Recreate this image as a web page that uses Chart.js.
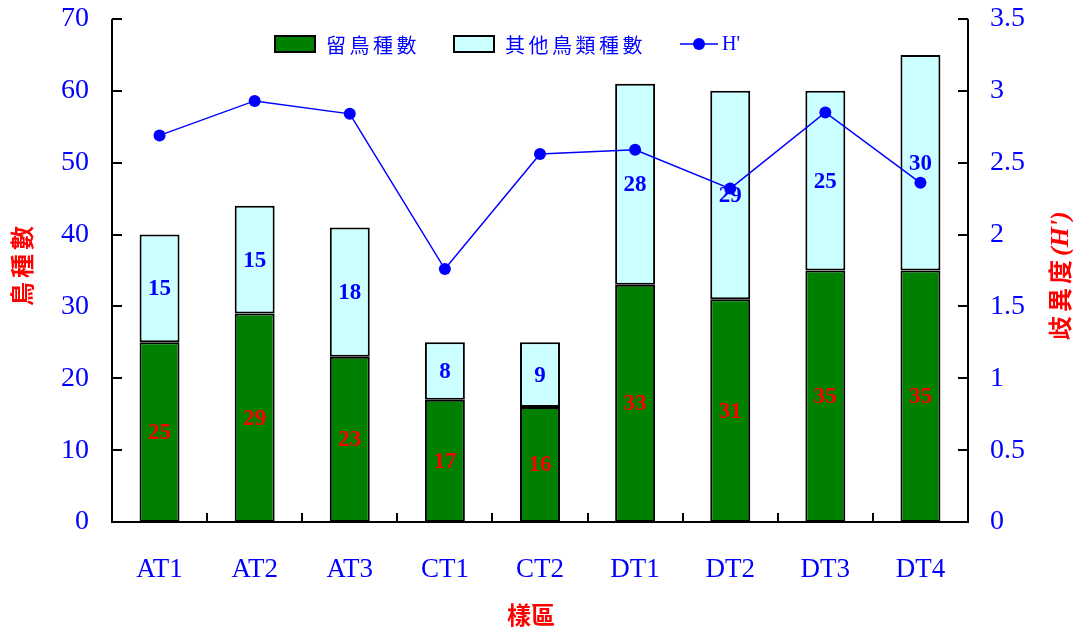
<!DOCTYPE html>
<html>
<head>
<meta charset="utf-8">
<script src="https://cdn.jsdelivr.net/npm/chart.js@4"></script>
<style>
  body { margin: 0; background: #fff; }
  #wrap { width: 1079px; height: 631px; }
</style>
</head>
<body>
<div id="wrap"><canvas id="chart" width="1079" height="631"></canvas></div>
<script>
const categories = ["AT1", "AT2", "AT3", "CT1", "CT2", "DT1", "DT2", "DT3", "DT4"];
const residentBirds = [25, 29, 23, 17, 16, 33, 31, 35, 35];
const otherBirds = [15, 15, 18, 8, 9, 28, 29, 25, 30];
const diversity = [2.69, 2.93, 2.84, 1.76, 2.56, 2.59, 2.32, 2.85, 2.36];
const legendLabels = ["留鳥種數", "其他鳥類種數", "H'"];

const serif = "'Liberation Serif', 'Times New Roman', 'Noto Sans CJK TC', serif";
const cjk = "'Noto Sans CJK TC', 'Liberation Serif', serif";

function spacedText(ctx, text, x, y, step) {
  for (let i = 0; i < text.length; i++) {
    ctx.fillText(text[i], x + i * step, y);
  }
}

const extras = {
  id: "extras",
  afterDatasetsDraw(chart) {
    const ctx = chart.ctx;
    ctx.save();
    ctx.font = "bold 23px " + serif;
    ctx.textAlign = "center";
    ctx.textBaseline = "middle";
    [0, 1].forEach(function (d) {
      const meta = chart.getDatasetMeta(d);
      ctx.fillStyle = d === 0 ? "#ff0000" : "#0000ff";
      meta.data.forEach(function (bar, i) {
        const v = chart.data.datasets[d].data[i];
        ctx.fillText(v, bar.x, (bar.y + bar.base) / 2 + 1);
      });
    });
    ctx.restore();
  },
  afterDraw(chart) {
    const ctx = chart.ctx;
    const area = chart.chartArea;
    const y = chart.scales.y;
    const y2 = chart.scales.y2;
    ctx.save();
    ctx.strokeStyle = "#000";
    ctx.lineWidth = 2;
    ctx.beginPath();
    ctx.moveTo(area.left, area.top);
    ctx.lineTo(area.left, area.bottom);
    ctx.lineTo(area.right, area.bottom);
    ctx.lineTo(area.right, area.top);
    y.ticks.forEach(function (t) {
      const p = Math.round(y.getPixelForValue(t.value));
      ctx.moveTo(area.left, p);
      ctx.lineTo(area.left + 10, p);
    });
    y2.ticks.forEach(function (t) {
      const p = Math.round(y2.getPixelForValue(t.value));
      ctx.moveTo(area.right, p);
      ctx.lineTo(area.right - 10, p);
    });
    const step = (area.right - area.left) / categories.length;
    for (let i = 1; i < categories.length; i++) {
      const px = Math.round(area.left + i * step);
      ctx.moveTo(px, area.bottom);
      ctx.lineTo(px, area.bottom - 9);
    }
    ctx.stroke();

    // legend
    ctx.fillStyle = "#008000";
    ctx.fillRect(275, 36, 40, 16);
    ctx.strokeRect(275, 36, 40, 16);
    ctx.fillStyle = "#ccffff";
    ctx.fillRect(454, 36, 40, 16);
    ctx.strokeRect(454, 36, 40, 16);
    ctx.strokeStyle = "#0000ff";
    ctx.lineWidth = 1.5;
    ctx.beginPath();
    ctx.moveTo(680, 44);
    ctx.lineTo(718, 44);
    ctx.stroke();
    ctx.fillStyle = "#0000ff";
    ctx.beginPath();
    ctx.arc(699, 44, 6, 0, Math.PI * 2);
    ctx.fill();
    ctx.font = "20px " + cjk;
    ctx.textBaseline = "middle";
    ctx.textAlign = "left";
    spacedText(ctx, legendLabels[0], 326, 45, 23.5);
    spacedText(ctx, legendLabels[1], 505, 45, 23.5);
    ctx.font = "20px " + serif;
    ctx.fillText(legendLabels[2], 722, 45);

    // axis titles
    ctx.fillStyle = "#ff0000";
    ctx.textAlign = "center";
    ctx.font = "bold 24px " + cjk;
    ctx.fillText("樣區", 531, 615);

    ctx.save();
    ctx.translate(22, 266);
    ctx.rotate(-Math.PI / 2);
    ctx.textAlign = "left";
    spacedText(ctx, "鳥種數", -40, 0, 28);
    ctx.restore();

    ctx.save();
    ctx.translate(1060, 262);
    ctx.rotate(-Math.PI / 2);
    ctx.textAlign = "left";
    ctx.font = "bold 24px " + cjk;
    spacedText(ctx, "歧異度", -78, 0, 28);
    ctx.font = "bold italic 26px " + serif;
    ctx.fillText("(H')", 6, 1);
    ctx.restore();
    ctx.restore();
  }
};

function fitY(width) {
  return function (s) {
    s.width = width;
    s.paddingTop = 19;
    s.paddingBottom = 0;
  };
}

const chart = new Chart(document.getElementById("chart"), {
  type: "bar",
  data: {
    labels: categories,
    datasets: [
      {
        label: legendLabels[0],
        data: residentBirds,
        backgroundColor: "#008000",
        borderColor: "#000",
        borderWidth: 2,
        borderSkipped: false,
        stack: "birds",
        yAxisID: "y",
        order: 2,
        barPercentage: 0.42,
        categoryPercentage: 1
      },
      {
        label: legendLabels[1],
        data: otherBirds,
        backgroundColor: "#ccffff",
        borderColor: "#000",
        borderWidth: 2,
        borderSkipped: false,
        stack: "birds",
        yAxisID: "y",
        order: 2,
        barPercentage: 0.42,
        categoryPercentage: 1
      },
      {
        type: "line",
        label: legendLabels[2],
        data: diversity,
        borderColor: "#0000ff",
        backgroundColor: "#0000ff",
        borderWidth: 1.5,
        pointRadius: 6,
        pointBorderWidth: 0,
        yAxisID: "y2",
        order: 0,
        tension: 0
      }
    ]
  },
  options: {
    responsive: false,
    animation: false,
    layout: { padding: 0 },
    plugins: {
      legend: { display: false },
      tooltip: { enabled: false }
    },
    scales: {
      x: {
        stacked: true,
        grid: { display: false },
        border: { display: false },
        ticks: {
          color: "#0000ff",
          padding: 24,
          font: { family: serif, size: 27 }
        },
        afterFit: function (s) { s.height = 109; }
      },
      y: {
        stacked: true,
        position: "left",
        min: 0,
        max: 70,
        grid: { display: false },
        border: { display: false },
        ticks: {
          stepSize: 10,
          color: "#0000ff",
          padding: 15,
          font: { family: serif, size: 28 },
          callback: function (v) { return String(v); }
        },
        afterFit: fitY(112)
      },
      y2: {
        position: "right",
        min: 0,
        max: 3.5,
        grid: { display: false },
        border: { display: false },
        ticks: {
          stepSize: 0.5,
          color: "#0000ff",
          padding: 14,
          font: { family: serif, size: 28 },
          callback: function (v) { return String(v); }
        },
        afterFit: fitY(111)
      }
    }
  },
  plugins: [extras]
});
</script>
</body>
</html>
